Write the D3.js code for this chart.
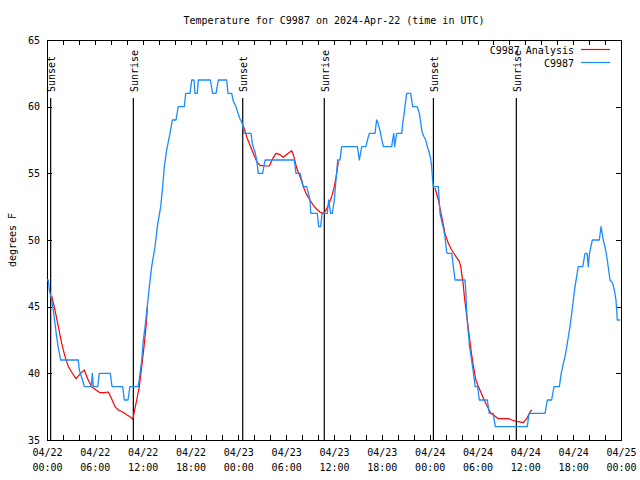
<!DOCTYPE html>
<html>
<head>
<meta charset="utf-8">
<script src="https://cdn.jsdelivr.net/npm/d3@7"></script>
<style>
  html, body { margin: 0; padding: 0; background: #fff; }
  svg { display: block; }
  text { font-family: "DejaVu Sans Mono", "Liberation Mono", monospace; font-size: 10px; fill: #000; }
</style>
</head>
<body>
<svg id="chart" width="640" height="480"></svg>
<script>
// ---------------- data ----------------
const chartTitle = "Temperature for C9987 on 2024-Apr-22 (time in UTC)";
const yLabel = "degrees F";
const seriesNames = ["C9987 Analysis", "C9987"];
const startDate = Date.UTC(2024, 3, 22, 0, 0); // 04/22 00:00 UTC
const spanHours = 72;
const yTicks = [35, 40, 45, 50, 55, 60, 65];

// sun events, hours after 04/22 00:00 UTC
const sunsetHours = [0.46, 24.55, 48.47];
const sunriseHours = [10.83, 34.78, 58.87];

// observed temperature (C9987), hours after start
const obsHours = [0.0, 0.16, 0.29, 0.59, 0.79, 1.0, 1.21, 1.42, 1.71, 3.93, 4.05, 4.45, 4.68, 5.48, 5.56, 5.69, 5.81, 6.36, 6.55, 7.94, 8.15, 9.49, 9.7, 10.16, 10.4, 11.45,
  11.67, 11.88, 12.09, 12.4, 12.84, 13.13, 13.55, 13.84, 14.26, 14.51, 14.72, 15.01, 15.43, 15.72, 16.18, 16.47, 17.22, 17.4, 17.94, 18.15, 18.44, 18.56, 18.85, 18.98,
  20.49, 20.78, 21.2, 21.49, 22.54, 22.7, 23.17, 23.37, 23.7, 23.91, 24.2, 24.49, 24.7, 25.59, 25.8, 26.09, 26.3, 26.5, 27.05, 27.35, 31.03, 31.23, 31.74, 31.95,
  32.15, 32.57, 32.8, 32.99, 33.08, 33.9, 34.08, 34.33, 34.5, 35.16, 35.33, 35.58, 35.79, 36.04, 36.25, 36.46, 36.75, 36.96, 38.93, 39.18, 39.47, 39.68, 40.0,
  40.2, 40.43, 41.14, 41.35, 41.45, 41.77, 41.97, 42.19, 43.24, 43.35, 43.5, 43.6, 43.86, 44.49, 44.62, 44.8, 44.95, 45.12, 45.62, 45.87, 46.45, 46.7, 46.83,
  47.05, 47.29, 47.5, 47.71, 47.92, 48.12, 48.25, 48.37, 48.46, 49.08, 49.3, 49.51, 49.72, 49.92, 50.13, 50.2, 50.77, 50.97, 51.18, 52.43, 52.55, 52.63, 52.77,
  52.9, 53.0, 53.19, 53.32, 53.45, 53.6, 53.71, 54.02, 54.22, 55.23, 55.48, 55.98, 56.23, 60.25, 60.46, 62.47, 62.76, 63.3, 63.6, 64.27, 64.5, 64.77, 64.98,
  65.2, 65.4, 65.6, 65.82, 66.02, 66.23, 66.44, 66.64, 67.2, 67.49, 67.75, 67.9, 68.05, 68.4, 69.28, 69.5, 69.78, 70.07, 70.28, 70.62, 70.96, 71.16, 71.37,
  71.54, 71.88];
const obsTemps = [47, 47, 46.25, 45.5, 44.75, 43.75, 42.75, 41.9, 41, 41, 40.25, 39.5, 39, 39, 39, 40, 39, 39, 40, 40, 39, 39, 38, 38, 39, 39,
  40, 41, 42.5, 44, 46.5, 48, 49.5, 51, 52.5, 54, 55.5, 56.75, 58, 59, 59, 60, 60, 61, 61, 62, 62, 61, 61, 62,
  62, 61, 61, 62, 62, 61, 61, 60.4, 60, 59.6, 59.1, 58.75, 58, 58, 57.1, 56.6, 56, 55, 55, 56, 56, 55, 55, 54.5,
  54, 54, 53.5, 53, 52, 52, 51, 51, 52, 52, 53, 52, 52, 53, 54.5, 56, 56, 57, 57, 56, 57, 57, 57,
  57.5, 58, 58, 59, 58.9, 58.2, 57.6, 57, 57, 57.5, 58, 57, 58, 58, 58.75, 59.5, 60.25, 61, 61, 60, 60, 59.5, 59,
  58.1, 57.75, 57.5, 57, 56.6, 56.1, 55.5, 54.5, 54, 54, 52, 51.4, 50.9, 50.25, 49.1, 49, 49, 48, 47, 47, 46, 44.75, 43.5,
  42.75, 42, 41.25, 40.75, 40.2, 39.5, 39, 39, 38, 38, 37, 37, 36, 36, 37, 37, 38, 38, 39, 39, 40, 40.75, 41.25,
  42, 42.75, 43.5, 44.5, 45.5, 46.5, 47.25, 48, 48, 49, 49, 48, 49, 50, 50, 51, 50, 49.25, 48.5, 47, 46.75, 46.25, 45.5,
  44, 44];

// analysis (C9987 Analysis), three night-time segments; null marks a gap
const anaHours = [0.59, 1.0, 1.42, 1.84, 2.26, 2.68, 3.09, 3.64, 4.22, 4.68, 5.1, 5.6, 6.15, 6.65, 7.19, 7.69, 8.11, 8.53, 8.95, 9.49, 10.0, 10.41, 10.75,
  10.91, 11.25, 11.58, 11.88, 12.17, 12.42, 12.6, null,
  24.6, 25.05, 25.46, 25.88, 26.3, 26.72, 27.35, 27.89, 28.31, 28.73, 29.23, 29.64, 30.14, 30.69, 30.9, 31.32, 31.74, 32.15, 32.57, 32.99, 33.41, 33.83,
  34.24, 34.66, 35.0, 35.29, 35.71, 36.04, 36.34, 36.55, null,
  48.67, 49.09, 49.51, 49.92, 50.34, 50.76, 51.3, 51.72, 51.9, 52.19, 52.4, 52.61, 52.82, 53.03, 53.24, 53.5, 53.79, 54.12, 54.41, 54.83, 55.25, 55.67,
  56.17, 56.61, 57.87, 58.29, 58.92, 59.75, 60.17, 60.59, 60.8];
const anaTemps = [45.8, 44.75, 43.5, 42.25, 41.25, 40.5, 40.1, 39.6, 40.0, 40.25, 39.6, 39.0, 38.75, 38.55, 38.55, 38.6, 38.1, 37.5, 37.25, 37.1, 36.9, 36.75, 36.55,
  37.0, 38.0, 39.0, 40.5, 42.0, 43.5, 45.0, null,
  58.6, 57.75, 57.1, 56.5, 55.9, 55.6, 55.55, 55.55, 56.1, 56.5, 56.4, 56.2, 56.45, 56.7, 56.4, 55.4, 54.75, 54.0, 53.4, 53.0, 52.6, 52.3,
  52.1, 52.0, 52.25, 52.6, 53.25, 54.0, 55.0, 55.9, null,
  53.9, 53.0, 51.75, 50.5, 49.75, 49.25, 48.75, 48.4, 48.0, 46.75, 45.5, 44.5, 43.5, 42.5, 41.5, 40.5, 39.5, 39.0, 38.6, 38.0, 37.5, 37.0,
  36.8, 36.6, 36.6, 36.5, 36.4, 36.3, 36.6, 37.1, 37.25];

const colors = { analysis: "#ff0000", obs: "#1a8cff", frame: "#000000" };

// ---------------- chart ----------------
const svg = d3.select("#chart");
const L = 47, R = 621, T = 40, B = 440;
const toDate = h => new Date(startDate + h * 3600e3);

const x = d3.scaleUtc().domain([toDate(0), toDate(spanHours)]).range([L, R]);
const y = d3.scaleLinear().domain([35, 65]).range([B, T]);

const allTicks = d3.utcHour.every(2).range(toDate(0), toDate(spanHours + 0.01));
const fmtDay = d3.utcFormat("%m/%d"), fmtTime = d3.utcFormat("%H:%M");

// bottom axis with two-line labels
const gB = svg.append("g").attr("transform", `translate(0,${B})`)
  .call(d3.axisBottom(x).tickValues(allTicks).tickSizeInner(-5).tickSizeOuter(0)
    .tickFormat(d => d.getUTCHours() % 6 === 0 ? "x" : ""));
gB.selectAll(".tick text").each(function(d) {
  const t = d3.select(this);
  t.attr("dy", null).attr("y", null).text(null);
  if (d.getUTCHours() % 6 !== 0) return;
  t.append("tspan").attr("x", 0).attr("y", 15.5).text(fmtDay(d));
  t.append("tspan").attr("x", 0).attr("y", 31).text(fmtTime(d));
});
// top mirrored ticks
svg.append("g").attr("transform", `translate(0,${T})`)
  .call(d3.axisTop(x).tickValues(allTicks).tickSizeInner(-5).tickSizeOuter(0).tickFormat(""));
// left axis
svg.append("g").attr("transform", `translate(${L},0)`)
  .call(d3.axisLeft(y).tickValues(yTicks).tickSizeInner(-5).tickSizeOuter(0).tickPadding(7).tickFormat(d3.format("d")));
// right mirrored ticks
svg.append("g").attr("transform", `translate(${R},0)`)
  .call(d3.axisRight(y).tickValues(yTicks).tickSizeInner(-5).tickSizeOuter(0).tickFormat(""));

svg.selectAll(".domain").remove();
svg.selectAll(".tick line").attr("stroke", "#000").attr("shape-rendering", "crispEdges");
svg.selectAll(".tick text").attr("font-family", null).attr("font-size", null);

// frame
svg.append("rect").attr("x", L).attr("y", T).attr("width", R - L).attr("height", B - T)
  .attr("fill", "none").attr("stroke", colors.frame).attr("stroke-width", 1).attr("shape-rendering", "crispEdges");

// sun event lines
const sunEvents = sunsetHours.map(h => ({ h, label: "Sunset" }))
  .concat(sunriseHours.map(h => ({ h, label: "Sunrise" })));
const sunG = svg.append("g");
sunG.selectAll("line").data(sunEvents).join("line")
  .attr("x1", d => x(toDate(d.h))).attr("x2", d => x(toDate(d.h)))
  .attr("y1", 98).attr("y2", B)
  .attr("stroke", "#000").attr("stroke-width", 1.2);
sunG.selectAll("text").data(sunEvents).join("text")
  .attr("transform", d => `translate(${x(toDate(d.h)) + 4.5},92) rotate(-90)`)
  .attr("text-anchor", "start")
  .text(d => d.label);

// series lines
const line = d3.line()
  .defined(d => d[1] !== null)
  .x(d => x(toDate(d[0])))
  .y(d => y(d[1]));

const anaData = anaHours.map((h, i) => [h, anaTemps[i]]);
const obsData = obsHours.map((h, i) => [h, obsTemps[i]]);

svg.append("path").datum(anaData).attr("d", line)
  .attr("fill", "none").attr("stroke", colors.analysis).attr("stroke-width", 1.2).attr("stroke-linejoin", "round");
svg.append("path").datum(obsData).attr("d", line)
  .attr("fill", "none").attr("stroke", colors.obs).attr("stroke-width", 1.3).attr("stroke-linejoin", "round");

// legend
const legend = svg.append("g");
const legItems = [
  { name: seriesNames[0], color: colors.analysis, y: 49.5 },
  { name: seriesNames[1], color: colors.obs, y: 62.5 }
];
legItems.forEach(it => {
  legend.append("text").attr("x", 574).attr("y", it.y + 4).attr("text-anchor", "end").text(it.name);
  legend.append("line").attr("x1", 581).attr("x2", 610).attr("y1", it.y).attr("y2", it.y)
    .attr("stroke", it.color).attr("stroke-width", 1.2);
});

// title
svg.append("text").attr("x", (L + R) / 2).attr("y", 23.5).attr("text-anchor", "middle").text(chartTitle);

// y label
svg.append("text").attr("transform", `translate(15.5,${(T + B) / 2}) rotate(-90)`)
  .attr("text-anchor", "middle").text(yLabel);
</script>
</body>
</html>
